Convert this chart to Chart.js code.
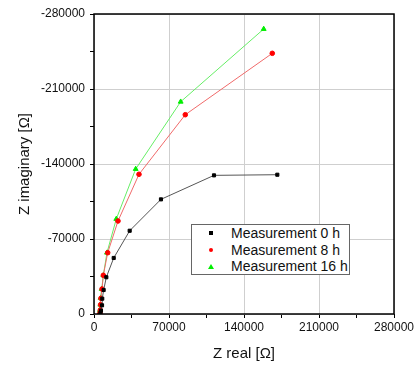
<!DOCTYPE html>
<html>
<head>
<meta charset="utf-8">
<script src="https://cdn.jsdelivr.net/npm/chart.js@4/dist/chart.umd.min.js"></script>
<style>
    html, body { margin: 0; padding: 0; background: #fff; }
    #wrap { position: relative; width: 417px; height: 367px; }
    #legend {
        position: absolute; left: 191px; top: 224px; width: 159px; height: 51px;
        box-sizing: border-box; border: 1px solid #666; background: #fff;
        font: 14px "Liberation Sans", Arial, sans-serif; color: #111;
    }
    #legend .row { position: absolute; left: 0; height: 17px; line-height: 17px; white-space: nowrap; }
    #legend .txt { position: absolute; left: 39px; top: 0; }
    #legend .mk { position: absolute; left: 17px; top: 6px; width: 4px; height: 4px; }
</style>
</head>
<body>
<div id="wrap">
    <canvas id="chart" width="417" height="367"></canvas>
    <div id="legend"></div>
</div>
<script>
/* ─────────────────────────────────────────
   DATA
───────────────────────────────────────── */
const seriesNames = ['Measurement 0 h', 'Measurement 8 h', 'Measurement 16 h'];

const real0h = [6000, 6500, 7500, 7700, 9000, 11500, 18400, 33300, 62500, 112000, 171100];
const imag0h = [-1000, -3100, -8100, -14300, -22400, -34300, -52300, -77700, -107000, -129400, -130000];

const real8h = [5600, 5900, 6200, 6500, 7500, 8700, 12800, 22400, 42000, 85200, 166400];
const imag8h = [-900, -3700, -8700, -14600, -23300, -36100, -57200, -86800, -130400, -186000, -243300];

const real16h = [5300, 5600, 5900, 6200, 7200, 8700, 12100, 20800, 38900, 80900, 158400];
const imag16h = [-900, -3700, -8700, -15000, -23300, -36100, -57200, -88700, -135300, -198100, -266000];

const xTicks = [0, 70000, 140000, 210000, 280000];
const yTicks = [-280000, -210000, -140000, -70000, 0];

/* ─────────────────────────────────────────
   HELPERS
───────────────────────────────────────── */
function pts(xs, ys) {
    return xs.map((x, i) => ({x: x, y: ys[i]}));
}

const FONT = '"Liberation Sans", Arial, sans-serif';

const frame = {
    id: 'frame',
    afterDraw(chart) {
        const a = chart.chartArea, c = chart.ctx;
        c.save();
        c.strokeStyle = '#000';
        c.lineWidth = 1.5;
        c.strokeRect(a.left, a.top, a.right - a.left, a.bottom - a.top);
        c.restore();
    }
};

function gridColor(major) {
    return ctx => (ctx.tick && major.includes(ctx.tick.value)) ? '#cfcfcf' : 'rgba(0,0,0,0)';
}

/* ─────────────────────────────────────────
   CHART
───────────────────────────────────────── */
const styles = [
    {line: '#555555', point: '#000000', shape: 'rect', r: 2.2},
    {line: '#f06a6a', point: '#ff0000', shape: 'circle', r: 2.3},
    {line: '#66ee66', point: '#00ee00', shape: 'triangle', r: 2.8},
];
const sets = [pts(real0h, imag0h), pts(real8h, imag8h), pts(real16h, imag16h)];

new Chart(document.getElementById('chart'), {
    type: 'line',
    data: {
        datasets: sets.map((d, i) => ({
            label: seriesNames[i],
            data: d,
            borderColor: styles[i].line,
            borderWidth: 1,
            backgroundColor: styles[i].point,
            pointBackgroundColor: styles[i].point,
            pointBorderColor: styles[i].point,
            pointStyle: styles[i].shape,
            pointRadius: styles[i].r,
            tension: 0,
            fill: false,
        }))
    },
    options: {
        responsive: false,
        animation: false,
        layout: {padding: {top: 14, right: 23, left: 0, bottom: 0}},
        plugins: {legend: {display: false}, tooltip: {enabled: false}},
        scales: {
            x: {
                type: 'linear',
                min: 0, max: 280000,
                afterFit: s => { s.height = 53; },
                ticks: {
                    stepSize: 35000,
                    autoSkip: false,
                    maxRotation: 0,
                    color: '#111',
                    padding: 2,
                    font: {family: FONT, size: 12},
                    callback: v => xTicks.includes(v) ? String(v) : '',
                },
                grid: {color: gridColor(xTicks), tickColor: '#000', tickLength: 4},
                border: {display: false},
                title: {
                    display: true, text: 'Z real [Ω]', color: '#111',
                    font: {family: FONT, size: 15}, padding: {top: 13}
                }
            },
            y: {
                type: 'linear',
                reverse: true,
                min: -280000, max: 0,
                afterFit: s => { s.width = 94; },
                ticks: {
                    stepSize: 35000,
                    autoSkip: false,
                    color: '#111',
                    padding: 5,
                    font: {family: FONT, size: 12},
                    callback: v => yTicks.includes(v) ? String(v) : '',
                },
                grid: {color: gridColor(yTicks), tickColor: '#000', tickLength: 4},
                border: {display: false},
                title: {
                    display: true, text: 'Z imaginary [Ω]', color: '#111',
                    font: {family: FONT, size: 15}, padding: {top: 16}
                }
            }
        }
    },
    plugins: [frame]
});

/* ─────────────────────────────────────────
   LEGEND (inside plot)
───────────────────────────────────────── */
const legend = document.getElementById('legend');
seriesNames.forEach((name, i) => {
    const row = document.createElement('div');
    row.className = 'row';
    row.style.top = (i * 16.7) + 'px';
    let mk;
    if (styles[i].shape === 'triangle') {
        mk = '<div class="mk" style="width:0;height:0;border-left:3px solid transparent;border-right:3px solid transparent;border-bottom:5px solid ' + styles[i].point + ';left:16px"></div>';
    } else {
        mk = '<div class="mk" style="background:' + styles[i].point + (styles[i].shape === 'circle' ? ';border-radius:50%' : '') + '"></div>';
    }
    row.innerHTML = mk + '<span class="txt">' + name + '</span>';
    legend.appendChild(row);
});
</script>
</body>
</html>
